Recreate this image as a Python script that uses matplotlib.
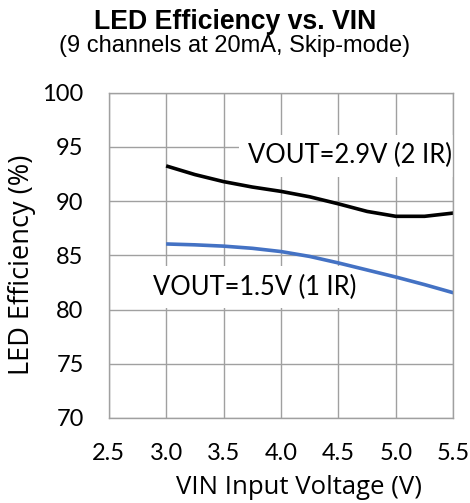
import numpy as np
import matplotlib
matplotlib.use("Agg")
import matplotlib.pyplot as plt

# data
vin = [3.0, 3.25, 3.5, 3.75, 4.0, 4.25, 4.5, 4.75, 5.0, 5.25, 5.5]
eff_29v = [93.25, 92.45, 91.8, 91.3, 90.9, 90.4, 89.75, 89.05, 88.6, 88.6, 88.9]
eff_15v = [86.05, 85.97, 85.85, 85.65, 85.35, 84.9, 84.3, 83.65, 83.0, 82.3, 81.55]
xticks = [2.5, 3.0, 3.5, 4.0, 4.5, 5.0, 5.5]
yticks = [70, 75, 80, 85, 90, 95, 100]

W, H = 470, 503
fig = plt.figure(figsize=(W / 100, H / 100), dpi=100)
ax = fig.add_axes([108.7 / W, 1 - 418 / H, (453.3 - 108.7) / W, (418 - 92.7) / H])

grid_c = "#a0a0a0"
ax.plot(vin, eff_29v, color="black", lw=2.6, zorder=4, solid_capstyle="butt")
ax.plot(vin, eff_15v, color="#4472C4", lw=2.6, zorder=4, solid_capstyle="butt")

ax.set_xlim(2.5, 5.5)
ax.set_ylim(70, 100)
ax.set_xticks(xticks)
ax.set_yticks(yticks)
ax.set_xticklabels(["%.1f" % v for v in xticks], family="Lato", fontsize=17)
ax.set_yticklabels([str(v) for v in yticks], family="Lato", fontsize=17)
ax.tick_params(length=0, pad=18)
ax.grid(True, color=grid_c, lw=1.0)
ax.set_axisbelow(True)
for s in ax.spines.values():
    s.set_color(grid_c)
    s.set_linewidth(1.0)
    s.set_zorder(5)

# white label boxes hide the grid behind the text, like the original
box = dict(facecolor="white", edgecolor="none", pad=6)
ax.text(3.71, 94.2, "VOUT=2.9V (2 IR)", family="Lato", fontsize=18.4,
        va="center", ha="left", bbox=box, zorder=3)
ax.text(2.886, 82.05, "VOUT=1.5V (1 IR)", family="Lato", fontsize=18.4,
        va="center", ha="left", bbox=box, zorder=3)

fig.text(235 / W, 1 - 29.3 / H, "LED Efficiency vs. VIN", family="Liberation Sans",
         weight="bold", fontsize=19.2, ha="center", va="baseline")
fig.text(235 / W, 1 - 51.7 / H, "(9 channels at 20mA, Skip-mode)", family="Liberation Sans",
         fontsize=17, ha="center", va="baseline")
fig.text(299 / W, 1 - 488 / H, "VIN Input Voltage (V)", family="Open Sans",
         fontsize=18.5, ha="center", va="center")
fig.text(22 / W, 1 - 265 / H, "LED Efficiency (%)", family="Open Sans",
         fontsize=19.5, ha="center", va="center", rotation=90)

fig.savefig("out.png", dpi=100)
